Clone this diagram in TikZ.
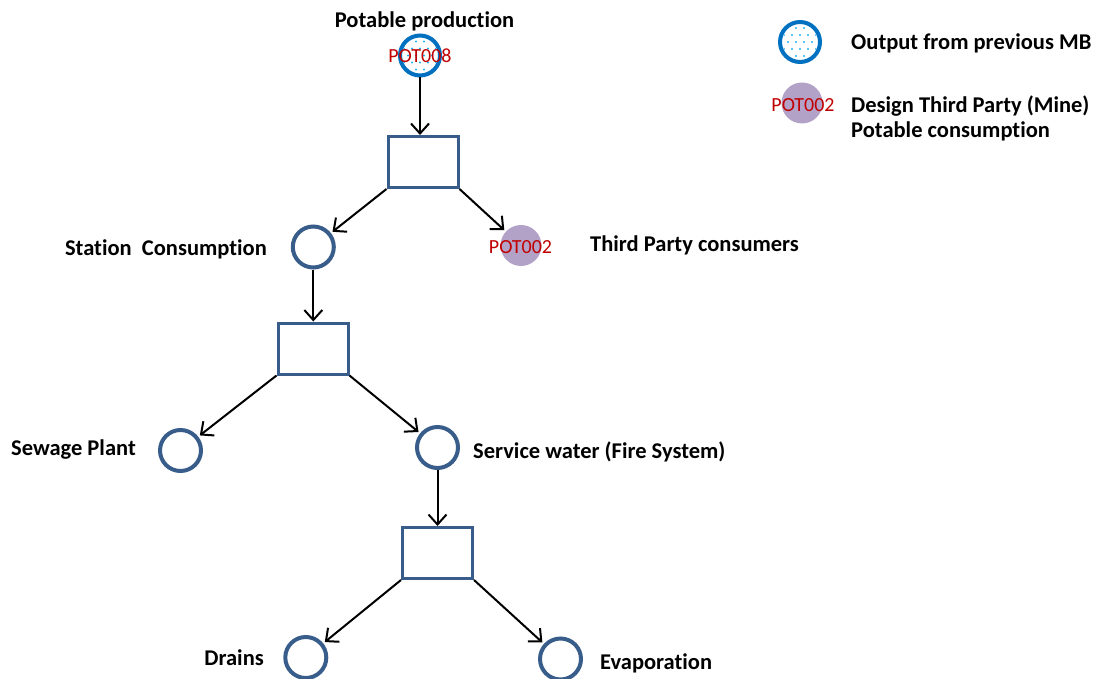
\documentclass[tikz,border=0pt]{standalone}
\usepackage{fontspec}
\setmainfont{Carlito}[Ligatures=NoCommon]
\usetikzlibrary{arrows.meta}
\definecolor{ringblue}{HTML}{0070C0}
\definecolor{steel}{HTML}{385D8A}
\definecolor{dotblue}{HTML}{1FB4F0}
\definecolor{lilac}{HTML}{B3A2C7}
\definecolor{codered}{HTML}{C00000}

\begin{document}
\begin{tikzpicture}[x=1pt,y=-1pt,
  lbl/.style={font=\fontsize{22.5}{27}\selectfont\bfseries, inner sep=0},
  code/.style={font=\fontsize{20}{24}\selectfont, text=codered, inner sep=0},
  flowbox/.style={draw=steel, line width=3pt, minimum width=70pt, minimum height=51pt, inner sep=0},
  stream/.style={circle, draw=steel, line width=4pt, minimum size=41pt, inner sep=0},
  external/.style={circle, draw=ringblue, line width=4pt, minimum size=40pt, inner sep=0},
  thirdparty/.style={circle, fill=lilac, minimum size=41pt, inner sep=0},
  flow/.style={draw=black, line width=2pt, -{Straight Barb[length=10pt,width=18pt]}},
  toring/.style={flow, shorten >=2pt},
  speckle/.style={fill=dotblue},
]
\useasboundingbox (0,0) rectangle (1099,679);

% speckled interior of the "output from previous MB" rings
\foreach \cx/\cy in {420/55.5, 800/42} {
  \begin{scope}
    \clip (\cx,\cy) circle (17.5pt);
    \foreach \dy in {-14,0,14} \foreach \dx in {-12,-4,4,12}
      \fill[speckle, shift={(\cx,\cy)}] (\dx,\dy) circle (1.1pt);
    \foreach \dy in {-7,7} \foreach \dx in {-16,-8,0,8,16}
      \fill[speckle, shift={(\cx,\cy)}] (\dx,\dy) circle (1.1pt);
  \end{scope}
}

% source
\node[external] (src) at (420,55.5) {};
\node[lbl, anchor=base] (srcname) at (424.5,28) {Potable production};
\node[code, anchor=base] (srccode) at (420,63) {POT008};

% first split
\node[flowbox] (b1) at (423,162) {};
\node[stream] (station) at (313.3,247) {};
\node[thirdparty] (third) at (521,245.5) {};
\node[code, anchor=base] (thirdcode) at (520.5,253) {POT002};
\node[lbl, anchor=base east] (stationname) at (267,255) {Station\ \ Consumption};
\node[lbl, anchor=base west] (thirdname) at (590,251) {Third Party consumers};

% station split
\node[flowbox] (b2) at (313,348.5) {};
\node[stream] (sewage) at (180.5,450.5) {};
\node[stream] (service) at (437.5,447.5) {};
\node[lbl, anchor=base west] (sewagename) at (11,455) {Sewage Plant};
\node[lbl, anchor=base west] (servicename) at (473,458) {Service water (Fire System)};

% service water split
\node[flowbox] (b3) at (437.5,553) {};
\node[stream] (drains) at (305.8,657.5) {};
\node[stream] (evap) at (560.5,659) {};
\node[lbl, anchor=base east] (drainsname) at (264,665) {Drains};
\node[lbl, anchor=base west] (evapname) at (600,669) {Evaporation};

% flows
\draw[flow] (src) -- (src.south |- b1.north);
\draw[toring] (b1.south west) -- (station);
\draw[toring] (b1.south east) -- (third);
\draw[flow] (station) -- (station |- b2.north);
\draw[toring] (b2.south west) -- (sewage);
\draw[toring] (b2.south east) -- (service);
\draw[flow] (service) -- (service |- b3.north);
\draw[toring] (b3.south west) -- (drains);
\draw[toring] (b3.south east) -- (evap);

% legend
\node[external] (keysrc) at (800,42) {};
\node[lbl, anchor=base west] (keysrcname) at (851,50) {Output from previous MB};
\node[thirdparty] (keythird) at (802,103) {};
\node[code, anchor=base] (keythirdcode) at (803,112) {POT002};
\node[lbl, anchor=base west] (keythirdname1) at (851,113) {Design Third Party (Mine)};
\node[lbl, anchor=base west] (keythirdname2) at (851,138) {Potable consumption};
\end{tikzpicture}
\end{document}
